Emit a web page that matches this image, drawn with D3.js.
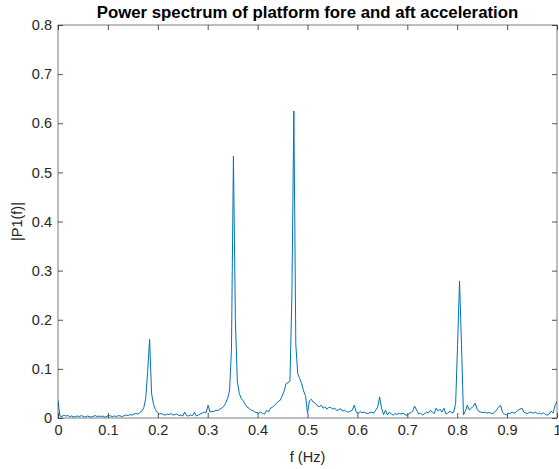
<!DOCTYPE html>
<html>
<head>
<meta charset="utf-8">
<script src="https://cdn.jsdelivr.net/npm/d3@7"></script>
<style>
  html, body { margin: 0; padding: 0; background: #fff; }
  svg { display: block; }
  text { font-family: "Liberation Sans", Arial, Helvetica, sans-serif; }
</style>
</head>
<body>
<svg id="chart" width="559" height="469"></svg>
<script>
// One-sided amplitude spectrum |P1(f)|, frequency resolution 1/256 Hz
const freqStep = 1 / 256;
const p1 = [
  0.036, 0.004, 0.003, 0.006, 0.004, 0.005, 0.003, 0.004, 0.002, 0.003,
  0.004, 0.003, 0.005, 0.003, 0.002, 0.004, 0.003, 0.002, 0.003, 0.005,
  0.003, 0.004, 0.003, 0.004, 0.002, 0.003, 0.005, 0.004, 0.003, 0.004,
  0.003, 0.005, 0.004, 0.003, 0.005, 0.006, 0.005, 0.007, 0.006, 0.008,
  0.009, 0.008, 0.011, 0.014, 0.021, 0.040, 0.095, 0.160, 0.050, 0.028,
  0.017, 0.011, 0.008, 0.009, 0.007, 0.006, 0.008, 0.007, 0.009, 0.006,
  0.007, 0.008, 0.005, 0.006, 0.004, 0.012, 0.005, 0.004, 0.006, 0.005,
  0.012, 0.004, 0.006, 0.008, 0.010, 0.012, 0.011, 0.026, 0.012, 0.014,
  0.013, 0.016, 0.015, 0.018, 0.020, 0.024, 0.030, 0.040, 0.055, 0.140,
  0.533, 0.200, 0.075, 0.050, 0.040, 0.035, 0.028, 0.022, 0.020, 0.016,
  0.015, 0.012, 0.011, 0.010, 0.012, 0.009, 0.008, 0.016, 0.012, 0.020,
  0.022, 0.025, 0.030, 0.034, 0.036, 0.045, 0.055, 0.070, 0.072, 0.075,
  0.250, 0.625, 0.150, 0.090, 0.080, 0.070, 0.055, 0.045, 0.010, 0.035,
  0.038, 0.032, 0.030, 0.025, 0.023, 0.026, 0.020, 0.023, 0.018, 0.022,
  0.021, 0.018, 0.020, 0.015, 0.017, 0.019, 0.014, 0.016, 0.013, 0.012,
  0.014, 0.016, 0.026, 0.012, 0.010, 0.013, 0.011, 0.012, 0.010, 0.009,
  0.011, 0.012, 0.010, 0.016, 0.022, 0.043, 0.020, 0.007, 0.016, 0.006,
  0.012, 0.008, 0.006, 0.009, 0.007, 0.010, 0.008, 0.010, 0.007, 0.005,
  0.009, 0.011, 0.014, 0.024, 0.016, 0.008, 0.010, 0.006, 0.008, 0.012,
  0.010, 0.016, 0.012, 0.009, 0.020, 0.014, 0.018, 0.012, 0.020, 0.008,
  0.010, 0.014, 0.010, 0.012, 0.030, 0.150, 0.279, 0.150, 0.006, 0.014,
  0.026, 0.016, 0.020, 0.024, 0.030, 0.018, 0.013, 0.012, 0.011, 0.012,
  0.010, 0.011, 0.010, 0.009, 0.012, 0.016, 0.022, 0.026, 0.012, 0.008,
  0.006, 0.010, 0.009, 0.012, 0.010, 0.012, 0.016, 0.018, 0.020, 0.012,
  0.010, 0.009, 0.012, 0.011, 0.010, 0.012, 0.009, 0.010, 0.008, 0.011,
  0.007, 0.006, 0.008, 0.014, 0.010, 0.026, 0.034
];
const xTicks = [0, 0.1, 0.2, 0.3, 0.4, 0.5, 0.6, 0.7, 0.8, 0.9, 1];
const yTicks = [0, 0.1, 0.2, 0.3, 0.4, 0.5, 0.6, 0.7, 0.8];
const titleText = "Power spectrum of platform fore and aft acceleration";
const xLabelText = "f (Hz)";
const yLabelText = "|P1(f)|";

const svg = d3.select("#chart");
const margin = { left: 58, right: 2, top: 25, bottom: 51 };
const W = 559, H = 469;
const x = d3.scaleLinear().domain([0, 1]).range([margin.left, W - margin.right]);
const y = d3.scaleLinear().domain([0, 0.8]).range([H - margin.bottom, margin.top]);

const axisColor = "#262626";
const fmt = d => d3.format("~g")(d);

// spectrum line (clipped to the axes box)
svg.append("clipPath").attr("id", "plotClip")
  .append("rect")
  .attr("x", x(0)).attr("y", y(0.8))
  .attr("width", x(1) - x(0)).attr("height", y(0) - y(0.8));

const line = d3.line()
  .x((d, i) => x(i * freqStep))
  .y(d => y(d));

svg.append("path")
  .datum(p1)
  .attr("clip-path", "url(#plotClip)")
  .attr("fill", "none")
  .attr("stroke", "#0072bd")
  .attr("stroke-width", 1)
  .attr("stroke-linejoin", "round")
  .attr("d", line);

function styleAxis(g, showLabels) {
  g.select(".domain").remove();
  g.selectAll(".tick line").attr("stroke", axisColor).attr("stroke-width", 0.8);
  g.selectAll(".tick text")
    .attr("fill", axisColor)
    .style("font-size", "14.5px")
    .style("font-family", '"Liberation Sans", Arial, Helvetica, sans-serif');
  if (!showLabels) g.selectAll(".tick text").remove();
}

// bottom / top axes
svg.append("g")
  .attr("transform", `translate(0,${y(0)})`)
  .call(d3.axisBottom(x).tickValues(xTicks).tickFormat(fmt).tickSize(-5).tickPadding(7))
  .call(g => styleAxis(g, true));
svg.append("g")
  .attr("transform", `translate(0,${y(0.8)})`)
  .call(d3.axisTop(x).tickValues(xTicks).tickSize(-5))
  .call(g => styleAxis(g, false));

// left / right axes
svg.append("g")
  .attr("transform", `translate(${x(0)},0)`)
  .call(d3.axisLeft(y).tickValues(yTicks).tickFormat(fmt).tickSize(-5).tickPadding(6))
  .call(g => styleAxis(g, true));
svg.append("g")
  .attr("transform", `translate(${x(1)},0)`)
  .call(d3.axisRight(y).tickValues(yTicks).tickSize(-5))
  .call(g => styleAxis(g, false));

// axes box
svg.append("rect")
  .attr("x", x(0)).attr("y", y(0.8))
  .attr("width", x(1) - x(0)).attr("height", y(0) - y(0.8))
  .attr("fill", "none")
  .attr("stroke", axisColor)
  .attr("stroke-width", 0.6);

// title and axis labels
svg.append("text")
  .attr("x", (x(0) + x(1)) / 2).attr("y", 18)
  .attr("text-anchor", "middle")
  .attr("fill", "#000")
  .style("font-size", "16.8px").style("font-weight", "bold")
  .text(titleText);

svg.append("text")
  .attr("x", (x(0) + x(1)) / 2).attr("y", 462)
  .attr("text-anchor", "middle")
  .attr("fill", axisColor)
  .style("font-size", "14.5px")
  .text(xLabelText);

svg.append("text")
  .attr("transform", `translate(22,${(y(0) + y(0.8)) / 2}) rotate(-90)`)
  .attr("text-anchor", "middle")
  .attr("fill", axisColor)
  .style("font-size", "14.5px")
  .text(yLabelText);
</script>
</body>
</html>
